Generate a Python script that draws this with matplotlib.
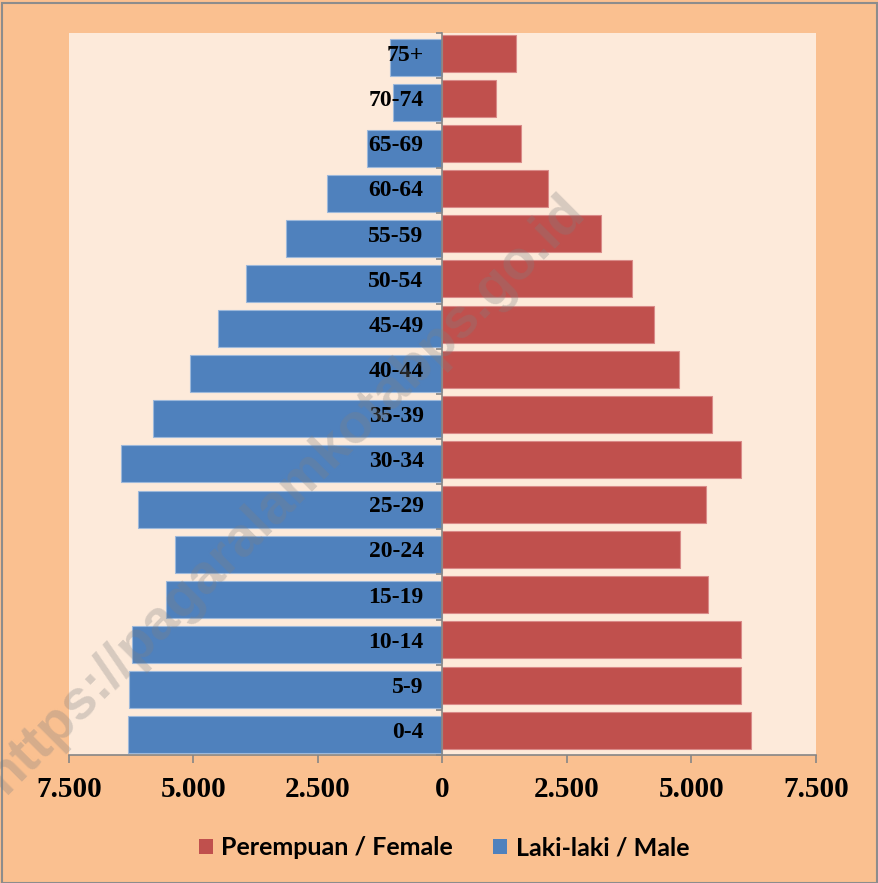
import matplotlib
matplotlib.use("Agg")
import matplotlib.pyplot as plt
from matplotlib.patches import Patch, Rectangle
from matplotlib.ticker import FuncFormatter
import numpy as np

# Data (population by age group, Pagar Alam)
age_groups = ["0-4", "5-9", "10-14", "15-19", "20-24", "25-29", "30-34", "35-39",
              "40-44", "45-49", "50-54", "55-59", "60-64", "65-69", "70-74", "75+"]
male = [6310, 6294, 6240, 5558, 5377, 6123, 6455, 5817,
        5071, 4506, 3941, 3151, 2317, 1514, 995, 1052]
female = [6193, 5998, 5996, 5333, 4776, 5296, 5988, 5421,
          4750, 4255, 3815, 3187, 2120, 1575, 1078, 1486]
x_ticks = [-7500, -5000, -2500, 0, 2500, 5000, 7500]
legend_labels = ["Perempuan / Female", "Laki-laki / Male"]

MALE_C = "#4F81BD"
FEMALE_C = "#C0504D"
AXIS_C = "#868686"


def thousands(v, pos):
    return f"{abs(int(round(v))):,}".replace(",", ".")


def main():
    fig = plt.figure(figsize=(8.79, 8.83), dpi=100, facecolor="#FAC090")
    ax = fig.add_axes([0.0785, 0.145, 0.8498, 0.8177])
    ax.set_facecolor("#FDEADA")

    y = np.arange(len(age_groups))
    ax.barh(y - 0.05, [-m for m in male], height=0.82, color=MALE_C,
            edgecolor="#9DB8DA", linewidth=0.8)
    ax.barh(y + 0.05, female, height=0.82, color=FEMALE_C,
            edgecolor="#D98A88", linewidth=0.8)

    ax.set_xlim(-7500, 7500)
    ax.set_ylim(-0.5, len(age_groups) - 0.5)

    # vertical axis through zero with ticks between categories
    for s in ("top", "right"):
        ax.spines[s].set_visible(False)
    ax.spines["left"].set_position(("data", 0))
    ax.spines["left"].set_color(AXIS_C)
    ax.spines["left"].set_linewidth(1.2)
    ax.spines["bottom"].set_color(AXIS_C)
    ax.spines["bottom"].set_linewidth(1.2)
    ax.set_yticks(np.arange(-0.5, len(age_groups), 1))
    ax.set_yticklabels([])
    ax.tick_params(axis="y", direction="out", length=4, color=AXIS_C, width=1.2)

    ax.set_xticks(x_ticks)
    ax.xaxis.set_major_formatter(FuncFormatter(thousands))
    ax.tick_params(axis="x", direction="out", length=6, color=AXIS_C, width=1.2, pad=9)
    for lbl in ax.get_xticklabels():
        lbl.set_fontfamily("Liberation Serif")
        lbl.set_fontweight("bold")
        lbl.set_fontsize(21)

    # age group labels sit inside the male bars, near the axis
    for yi, name in zip(y, age_groups):
        ax.text(-380, yi, name, ha="right", va="center",
                fontfamily="Liberation Serif", fontweight="bold", fontsize=17,
                color="black", zorder=4)

    handles = [Patch(facecolor=FEMALE_C), Patch(facecolor=MALE_C)]
    fig.legend(handles, legend_labels, loc="center", bbox_to_anchor=(0.505, 0.040),
               ncol=2, frameon=False, handlelength=0.55, handleheight=0.55,
               handletextpad=0.35, columnspacing=1.6,
               prop={"family": "Lato", "weight": "bold", "size": 18})

    # watermark
    fig.text(0.325, 0.44, "https://pagaralamkotabps.go.id", rotation=45,
             ha="center", va="center", fontsize=40, fontweight="bold",
             fontfamily="Liberation Sans", color="gray", alpha=0.3, zorder=10)

    fig.patches.append(Rectangle((0.002, 0.0), 0.996, 0.9965, transform=fig.transFigure,
                                 fill=False, edgecolor="#8C8C8C", linewidth=1.5))

    fig.savefig("out.png", dpi=100, facecolor=fig.get_facecolor())


if __name__ == "__main__":
    main()
